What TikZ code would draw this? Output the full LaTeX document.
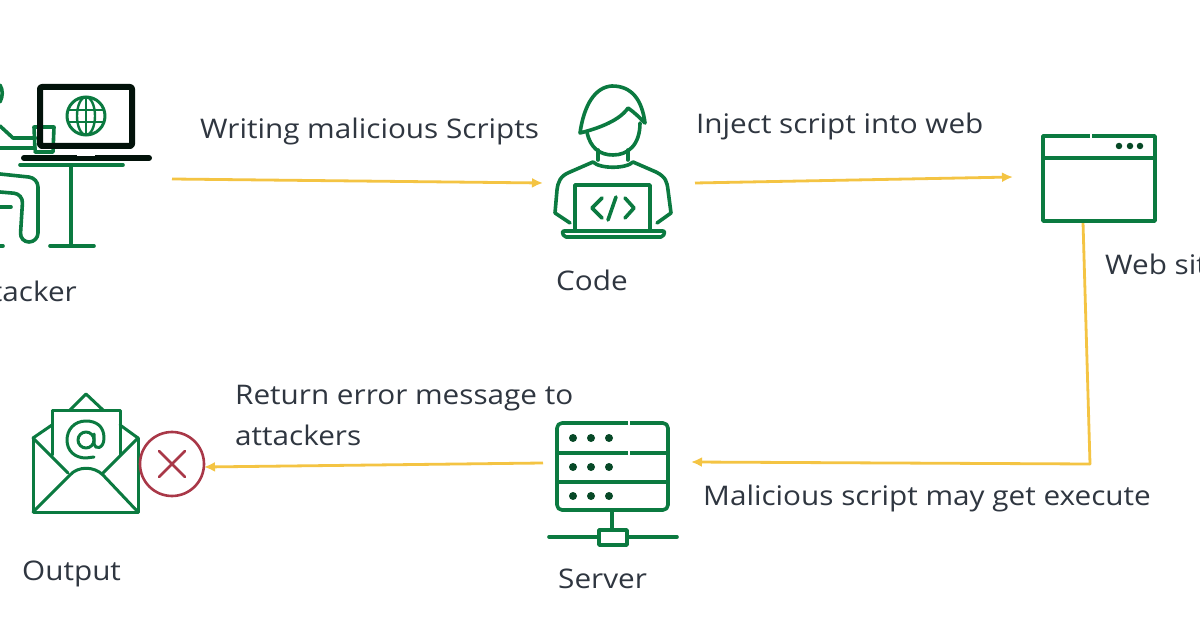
\documentclass[tikz,border=0pt]{standalone}
\usepackage{fontspec}
\setmainfont[FakeStretch=1.1]{Open Sans}
\usetikzlibrary{arrows.meta}
\definecolor{icong}{HTML}{0B7A40}
\definecolor{flow}{HTML}{F4C443}
\definecolor{txt}{HTML}{2F3640}
\definecolor{crossred}{HTML}{A93848}
\tikzset{
  x=1pt,y=-1pt,
  icon/.style={draw=icong,line width=3.6pt,line join=round,line cap=round},
  iconthin/.style={draw=icong,line width=3pt,line join=round,line cap=round},
  heavy/.style={draw=black!85!icong,line width=6pt,line join=round},
  flowline/.style={draw=flow,line width=2.8pt,-{Latex[length=11pt,width=10pt]}},
  flowplain/.style={draw=flow,line width=2.8pt},
  lab/.style={anchor=base west,inner sep=0pt,text=txt,font=\fontsize{27}{32}\selectfont},
  dot/.style={fill=icong!60!black,draw=none,circle,minimum size=7.5pt,inner sep=0pt},
}
\begin{document}
\begin{tikzpicture}
\useasboundingbox (0,0) rectangle (1200,628);
\clip (0,0) rectangle (1200,628);
\fill[white] (0,0) rectangle (1200,628);

% connector anchors
\coordinate (attackerR) at (172,179);
\coordinate (codeL) at (543,183);
\coordinate (codeR) at (695,183);
\coordinate (webL) at (1013,177);
\coordinate (webB) at (1083,222);
\coordinate (bend) at (1090,464);
\coordinate (serverR) at (691,462);
\coordinate (serverL) at (543,463);
\coordinate (crossR) at (204,467);

% connectors
\draw[flowline] (attackerR) -- (codeL);
\draw[flowline] (codeR) -- (webL);
\draw[flowplain,line cap=round] (webB) -- (bend);
\draw[flowline,line cap=round] (bend) -- (serverR);
\draw[flowline] (serverL) -- (crossR);

% attacker icon
\draw[icon] (0,85) .. controls (3,90) and (3,96) .. (0,102);
\draw[icon] (0,126) -- (13,138) -- (36,138);
\draw[icon] (0,148) -- (35,148);
\draw[icon] (35,150) -- (34,127) -- (54,127) -- (53,152) -- (35,152);
\draw[icon,rounded corners=9pt] (0,174) -- (38,178) -- (38,242) -- (20,242) -- (23,194) -- (0,192);
\draw[icon] (0,207) -- (11,207);
\draw[icon] (0,246) -- (3,246);
\draw[icon] (20,165) -- (123,165);
\draw[icon] (71,165) -- (71,246);
\draw[icon] (50,246) -- (94,246);
\draw[heavy,rounded corners=2pt] (40,87) rectangle (132,146);
\draw[draw=black!85!icong,line width=6pt,line cap=round] (24,158) -- (149,158);
\draw[white,line width=1.6pt] (77,155.5) -- (95,155.5);
\draw[iconthin] (86,116) circle (19);
\draw[icon,line width=2.4pt] (86,116) ellipse (9 and 19);
\draw[icon,line width=2.4pt] (86,97) -- (86,135);
\draw[icon,line width=2.4pt] (69,110) -- (103,110);
\draw[icon,line width=2.4pt] (69,122) -- (103,122);

% code icon
\draw[icon] (580,133) .. controls (584,105) and (595,87) .. (612,86)
            .. controls (632,86) and (642,100) .. (645,123)
            .. controls (640,118) and (634,112) .. (628,108)
            .. controls (620,120) and (600,128) .. (580,133) -- cycle;
\draw[icon] (587,132) .. controls (590,148) and (600,155) .. (613,155)
            .. controls (628,155) and (640,145) .. (640,123);
\draw[icon] (598,150) -- (598,160);
\draw[icon] (628,150) -- (628,160);
\draw[icon] (593,162) .. controls (600,169) and (626,169) .. (633,162);
\draw[icon] (593,162) -- (570,172) .. controls (560,176) and (558,182) .. (557,190) -- (555,213) -- (570,223);
\draw[icon] (633,162) -- (656,172) .. controls (666,177) and (667,182) .. (668,190) -- (671,213) -- (657,223);
\draw[icon] (575,231) -- (575,185) -- (650,185) -- (650,231);
\draw[icon,rounded corners=2pt] (562,231) -- (665,231) -- (663,237) -- (564,237) -- cycle;
\draw[icon] (602,198) -- (592,208) -- (602,218);
\draw[icon] (625,198) -- (634,208) -- (625,218);
\draw[icon] (616,197) -- (608,220);

% web site icon
\draw[icon,line cap=butt] (1043,136) rectangle (1155,221);
\draw[white,line width=1.2pt] (1091,133) -- (1091,139);
\draw[icon,line cap=butt] (1043,158) -- (1155,158);
\node[dot,minimum size=6.5pt] (w1) at (1119,146) {};
\node[dot,minimum size=6.5pt] (w2) at (1130,146) {};
\node[dot,minimum size=6.5pt] (w3) at (1140,146) {};

% server icon
\draw[icon,rounded corners=5pt] (557,423) rectangle (668,510);
\draw[icon,line cap=butt] (557,453) -- (668,453);
\draw[icon,line cap=butt] (557,482) -- (668,482);
\draw[white,line width=1.2pt] (629,420) -- (629,426);
\draw[white,line width=1.2pt] (629,450) -- (629,456);
\foreach \yy in {438,467,496} \foreach \xx in {573,591,609}
  \fill[icong!60!black] (\xx,\yy) circle (4);
\draw[icon] (612,510) -- (612,530);
\draw[icon] (549,537) -- (599,537);
\draw[icon] (627,537) -- (677,537);
\draw[icon] (599,530) rectangle (627,545);

% output icon
\draw[iconthin] (33,438) -- (33,512) -- (138,512) -- (138,438);
\draw[iconthin] (33,438) -- (68,473);
\draw[iconthin] (138,438) -- (103,473);
\draw[iconthin] (33,512) -- (70,475) .. controls (78,466) and (94,466) .. (103,475) -- (138,512);
\draw[iconthin] (33,438) -- (52,425);
\draw[iconthin] (138,438) -- (120,425);
\draw[iconthin] (52,455) -- (52,410) -- (120,410) -- (120,455);
\draw[iconthin] (70,410) -- (86,394) -- (103,410);
\draw[iconthin] (86,440) circle (8);
\draw[iconthin] (94,434) -- (94,444) .. controls (95,450) and (104,449) .. (104,438)
   .. controls (104,426) and (96,421) .. (86,421)
   .. controls (74,421) and (67,430) .. (67,440)
   .. controls (67,451) and (75,458) .. (86,458) -- (94,457);
\draw[crossred,line width=2.6pt] (172,464) circle (32);
\draw[crossred,line width=2.6pt,line cap=round] (159,451) -- (185,477);
\draw[crossred,line width=2.6pt,line cap=round] (185,451) -- (159,477);

% labels
\node[lab] (t1) at (200,139) {Writing malicious Scripts};
\node[lab] (t2) at (696,134) {Inject script into web};
\node[lab] (t3) at (556,291) {Code};
\node[lab] (t4) at (1105,275) {Web site};
\node[lab,anchor=base east] (t5) at (77,302) {Attacker};
\node[lab] (t6) at (235,405) {Return error message to};
\node[lab] (t7) at (235,445) {attackers};
\node[lab] (t8) at (703,505) {Malicious script may get execute};
\node[lab] (t9) at (22,580) {Output};
\node[lab] (t10) at (558,588) {Server};
\end{tikzpicture}
\end{document}
